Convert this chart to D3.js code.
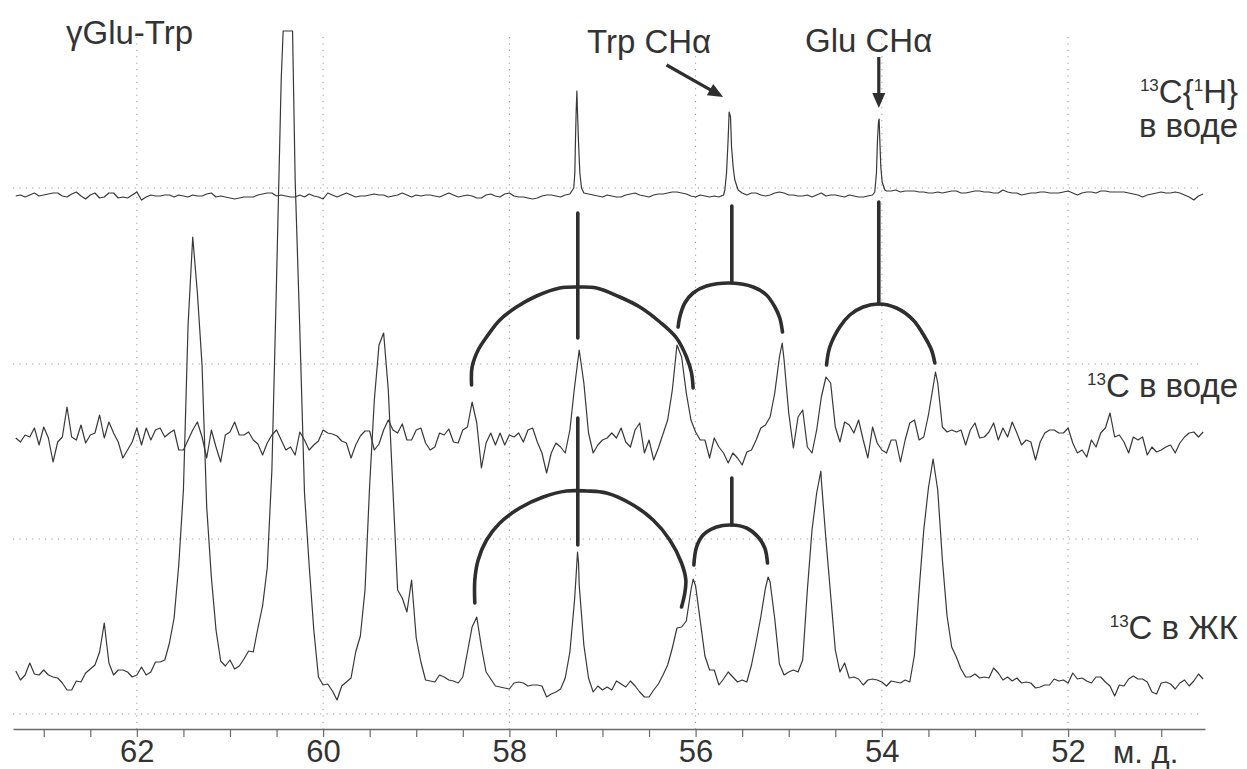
<!DOCTYPE html>
<html>
<head>
<meta charset="utf-8">
<script src="https://cdn.jsdelivr.net/npm/d3@7"></script>
<style>
  body { margin: 0; background: #fff; }
  svg { display: block; }
  text { font-family: "Liberation Sans", Arial, sans-serif; fill: #333; }
</style>
</head>
<body>
<svg id="chart" width="1247" height="769"></svg>
<script>
// ---- spectra: intensity sampled every 0.05 ppm from 63.30 ppm downwards ----
const ppmStart = 63.30;
const ppmStep = 0.05;

// 13C{1H} in water (top trace), relative to its own baseline
const topValues = [
  -1,0,-2,0,2,-1,0,1,2,2, -1,-2,1,3,-1,-4,0,2,-3,-2, 2,2,-3,-2,-3,0,3,-5,-2,0,
  -1,-1,0,0,-2,0,-1,-2,0,-1, -1,1,2,-2,-1,-2,-3,-4,-3,-2, -2,-2,0,1,2,2,-1,0,-1,-2,
  -2,0,-2,1,-1,-2,-4,2,0,-2, 0,2,0,-2,-1,-1,0,1,0,0, -2,-1,0,2,0,-2,0,
  -1,0,0,-1,-2,0,2,0,-2,-1, 0,-1,-3,-3,0,1,-1,-2,1,2, -1,-2,-2,-3,-4,-3,-1,0,0,-1,
  -2,0,1,20,30,2,1,0,-1,-2, 0,-1,-2,-2,0,1,2,0,-1,-2, 0,1,1,2,3,3,2,1,-1,-2,
  0,-1,-2,-1,-2,0,60,28,6,2, 0,2,2,0,-1,0,2,3,2,0, 0,-1,-1,0,-2,0,2,-1,0,0,
  -1,-2,0,-1,-2,-2,-1,0,50,20, 4,4,5,3,4,4,4,3,3,2, 2,3,2,3,4,4,2,2,3,4,
  4,3,3,2,2,5,3,2,2,0, 1,2,2,3,3,2,2,2,3,4, 2,0,2,3,3,2,4,4,3,3,
  3,3,2,1,0,-2,0,1,2,3, 2,2,3,2,0,-2,-5,-1,1
];
// narrow lines of the top trace: [ppm, intensity]
const topPeaks = [
  [[57.308,7],[57.297,22],[57.290,55],[57.283,82],[57.275,104],[57.268,82],[57.257,52],[57.243,22],[57.225,7]],
  [[55.686,5],[55.668,22],[55.651,55],[55.640,83],[55.625,78],[55.614,48],[55.597,28],[55.579,15],[55.543,5]],
  [[54.076,3],[54.058,22],[54.047,55],[54.036,73],[54.029,76],[54.022,55],[54.011,28],[53.997,13],[53.968,5]]
];

// 13C in water (middle trace)
const midValues = [
  -2,-6,1,-1,8,-9,9,-2,-26,-6, -1,29,-1,-4,11,-7,1,3,21,-2, 14,3,-6,-22,-14,-6,8,-9,8,-4,
  6,8,-1,3,6,-14,-14,-4,6,14, -1,-22,6,-11,-26,1,4,14,1,1, 4,-4,-8,-19,-7,1,6,-4,-14,-11,
  -19,4,-4,-14,-9,-5,6,3,2,0, -5,-7,-22,-9,0,5,5,-14,-8,6, 16,6,3,12,-4,-4,6,
  8,-7,-14,-11,3,1,7,-6,-7,6, 9,34,13,-32,-7,3,-9,3,-9,1, -1,3,-6,6,8,-6,-17,-37,-17,-7,
  -11,-17,6,49,86,53,3,-17,-9,-4, -2,3,-2,8,-6,-11,6,13,-17,-4, -24,-12,2,16,46,91,79,43,16,4,
  -4,-4,-22,-2,-11,-17,-27,-17,-22,-29, -16,-14,-4,8,11,19,43,79,76,23, -12,19,26,-11,-17,6,39,59,53,9,
  -6,14,11,3,16,-4,-22,9,-7,-14, -17,-4,-4,-26,-4,13,16,-4,-1,21, 49,53,9,4,6,4,6,-9,6,13,
  -2,-1,4,13,-4,8,-1,14,3,-9, -4,-6,-24,-6,3,6,6,3,3,8, -7,-17,-14,-21,-4,-11,3,8,23,-1,
  1,-6,-17,-1,-4,-1,-19,-11,-16,-14, -11,-9,-17,-7,-1,3,4,-1,4
];
const midPeaks = [ [[55.07,93]], [[53.424,64]] ];

// 13C in liquid crystal (bottom trace)
const lowValues = [
  12,3,8,20,9,8,13,8,6,5, 0,-7,-7,2,1,10,14,18,31,60, 20,8,13,13,11,6,8,16,8,11,
  21,21,23,40,65,118,193,358,446,390, 318,176,106,53,22,17,23,14,17,24,
  32,31,55,77,115,213,403,603,652,652, 503,353,190,118,53,6,-2,-1,-8,-17,
  -3,1,5,31,47,93,198,283,338,350, 293,193,93,85,71,103,45,21,3,2,
  1,8,6,3,2,0,6,31,56,66, 36,11,4,-3,-4,-5,-6,0,1,0, -3,-2,-2,-3,-14,-11,-9,-6,5,31,
  83,98,38,5,-9,-3,-7,-4,-7,2, -1,-4,2,-3,-9,-14,-14,-7,-1,8, 18,35,55,56,62,93,97,62,27,13,
  13,-2,4,11,6,1,3,1,18,41, 66,95,101,64,19,8,11,13,11,23, 93,153,190,203,143,88,33,11,20,5,
  6,4,-2,3,4,3,1,-3,2,1, 0,3,1,28,93,153,195,224,193,123, 67,36,26,14,6,6,9,5,6,5,
  15,10,3,6,2,5,0,1,0,-5, -4,-2,-2,4,2,3,0,10,4,5, 2,0,6,6,1,-3,-13,-2,-3,4,
  7,4,4,1,-9,-11,0,1,-1,-6, 0,3,-3,2,9,4
];
const lowPeaks = [
  [[60.429,652],[60.328,652]],
  [[57.286,103],[57.268,131],[57.257,120]],
  [[56.026,104]], [[55.221,106]], [[54.655,212]]
];

// baseline level of each trace on the shared intensity axis
const traceOffsets = [519, 278, 31];

// ---- axis ticks and grid ----
const tickPpm = d3.range(63, 50.9, -0.5);
const labelPpm = [62, 60, 58, 56, 54, 52];
const gridPpm = [62, 60, 58, 56, 54, 52];
const gridLevels = [0, 175, 350, 526];

// ---- assignment marks (intensity on the shared axis) ----
const stems = [
  [57.265, 501, 376], [57.265, 296, 169],
  [55.611, 508, 431], [54.033, 512, 410], [55.611, 236, 189]
];
const arcs = [
  [[58.406,329],[58.400,347],[58.335,364],[58.245,377],[58.102,394],[57.923,407],[57.708,418],[57.458,426],[57.243,427],[57.064,426],[56.814,417],[56.599,407],[56.384,392],[56.205,376],[56.098,357],[56.044,341],[56.027,326]],
  [[56.188,387],[56.170,397],[56.116,411],[56.027,421],[55.883,428],[55.614,431],[55.382,427],[55.239,419],[55.149,407],[55.096,396],[55.067,382]],
  [[54.594,349],[54.559,367],[54.452,387],[54.344,399],[54.201,407],[54.033,410],[53.843,406],[53.664,394],[53.539,377],[53.467,364],[53.431,351]],
  [[58.371,111],[58.371,134],[58.335,154],[58.245,174],[58.102,191],[57.888,206],[57.637,217],[57.386,223],[57.171,223],[56.957,221],[56.671,209],[56.456,194],[56.277,174],[56.151,151],[56.105,134],[56.116,121],[56.151,107]],
  [[56.019,149],[55.990,167],[55.919,179],[55.775,187],[55.614,189],[55.453,186],[55.329,177],[55.257,166],[55.228,151]]
];
const arrows = [
  [[56.312, 649], [55.705, 617]],
  [[54.033, 657], [54.033, 606]]
];

// ---- scales ----
const svg = d3.select("#chart");
const x = d3.scaleLinear().domain([63.33, 50.53]).range([13, 1205]);
const y = d3.scaleLinear().domain([0, 701]).range([714, 13]);
const axisLevel = -15, gridTop = 677;

// grid
const grid = svg.append("g").attr("stroke", "#9a9a9a").attr("stroke-width", 1)
  .attr("stroke-dasharray", "1.2,5.2");
grid.selectAll("line.v").data(gridPpm).join("line").attr("class", "v")
  .attr("x1", d => x(d)).attr("x2", d => x(d))
  .attr("y1", y(gridTop)).attr("y2", y(axisLevel));
grid.selectAll("line.h").data(gridLevels).join("line").attr("class", "h")
  .attr("x1", x(63.33)).attr("x2", x(50.58))
  .attr("y1", d => y(d)).attr("y2", d => y(d));

// spectra
function buildTrace(values, peaks) {
  let pts = values.map((v, i) => [+(ppmStart - i * ppmStep).toFixed(3), v]);
  peaks.forEach(g => {
    const hi = d3.max(g, d => d[0]), lo = d3.min(g, d => d[0]);
    pts = pts.filter(p => !(p[0] >= lo && p[0] <= hi)).concat(g);
  });
  return pts.sort((a, b) => b[0] - a[0]);
}
const traces = [
  buildTrace(topValues, topPeaks),
  buildTrace(midValues, midPeaks),
  buildTrace(lowValues, lowPeaks)
];
svg.append("g").selectAll("path").data(traces).join("path")
  .attr("fill", "none").attr("stroke", "#383838").attr("stroke-width", 1.2)
  .attr("stroke-linejoin", "round")
  .attr("d", (d, i) => d3.line().x(p => x(p[0])).y(p => y(traceOffsets[i] + p[1]))(d));

// assignment marks
const marks = svg.append("g").attr("stroke", "#2e2e2e").attr("fill", "none")
  .attr("stroke-width", 3.6).attr("stroke-linecap", "round");
marks.selectAll("line").data(stems).join("line")
  .attr("x1", d => x(d[0])).attr("x2", d => x(d[0]))
  .attr("y1", d => y(d[1])).attr("y2", d => y(d[2]));
marks.selectAll("path").data(arcs).join("path")
  .attr("d", d3.line().x(p => x(p[0])).y(p => y(p[1])).curve(d3.curveCatmullRom));

// arrows
const arrowG = svg.append("g");
arrows.forEach(([a, b]) => {
  const p0 = [x(a[0]), y(a[1])], p1 = [x(b[0]), y(b[1])];
  const dx = p1[0] - p0[0], dy = p1[1] - p0[1], len = Math.hypot(dx, dy);
  const u = [dx / len, dy / len], n = [-u[1], u[0]];
  const L = 15, W = 6.5;
  const base = [p1[0] - u[0] * L, p1[1] - u[1] * L];
  arrowG.append("line").attr("x1", p0[0]).attr("y1", p0[1])
    .attr("x2", base[0] + u[0] * 2).attr("y2", base[1] + u[1] * 2)
    .attr("stroke", "#2e2e2e").attr("stroke-width", 3.2);
  arrowG.append("path").attr("fill", "#2e2e2e")
    .attr("d", `M${p1[0]},${p1[1]}L${base[0] + n[0] * W},${base[1] + n[1] * W}L${base[0] - n[0] * W},${base[1] - n[1] * W}Z`);
});

// axis
const axis = d3.axisBottom(x).tickValues(tickPpm).tickSize(8).tickSizeOuter(0)
  .tickFormat(d => labelPpm.includes(d) ? String(d) : "");
const ax = svg.append("g").attr("transform", `translate(0,${y(axisLevel)})`).call(axis);
ax.select(".domain").attr("stroke", "#6a6a6a").attr("stroke-width", 1.3);
ax.selectAll(".tick line").attr("stroke", "#6a6a6a").attr("stroke-width", 1.2);
ax.selectAll(".tick text").attr("font-size", 31).attr("fill", "#333")
  .attr("font-family", "'Liberation Sans', Arial, sans-serif");
ax.selectAll(".tick text").filter(function () { return this.textContent === ""; }).remove();
svg.append("text").attr("x", 1113).attr("y", 763).attr("font-size", 31).text("м. д.");

// labels
svg.append("text").attr("x", 66).attr("y", 44).attr("font-size", 33).text("γGlu-Trp");
svg.append("text").attr("x", 587).attr("y", 53).attr("font-size", 33).text("Trp CHα");
svg.append("text").attr("x", 805).attr("y", 52).attr("font-size", 33).text("Glu CHα");

// text with superscript parts: [string, isSuperscript]
function isotopeLabel(xp, yp, parts) {
  const t = svg.append("text").attr("x", xp).attr("y", yp).attr("text-anchor", "end").attr("font-size", 33);
  let raised = false;
  parts.forEach(([s, sup]) => {
    const dy = sup ? (raised ? 0 : -12) : (raised ? 12 : 0);
    t.append("tspan").attr("font-size", sup ? 17 : 33).attr("dy", dy).text(s);
    raised = sup;
  });
}
isotopeLabel(1238, 103, [["13", true], ["C{", false], ["1", true], ["H}", false]]);
svg.append("text").attr("x", 1238).attr("y", 137).attr("text-anchor", "end").attr("font-size", 33).text("в воде");
isotopeLabel(1238, 397, [["13", true], ["C в воде", false]]);
isotopeLabel(1238, 639, [["13", true], ["C в ЖК", false]]);
</script>
</body>
</html>
